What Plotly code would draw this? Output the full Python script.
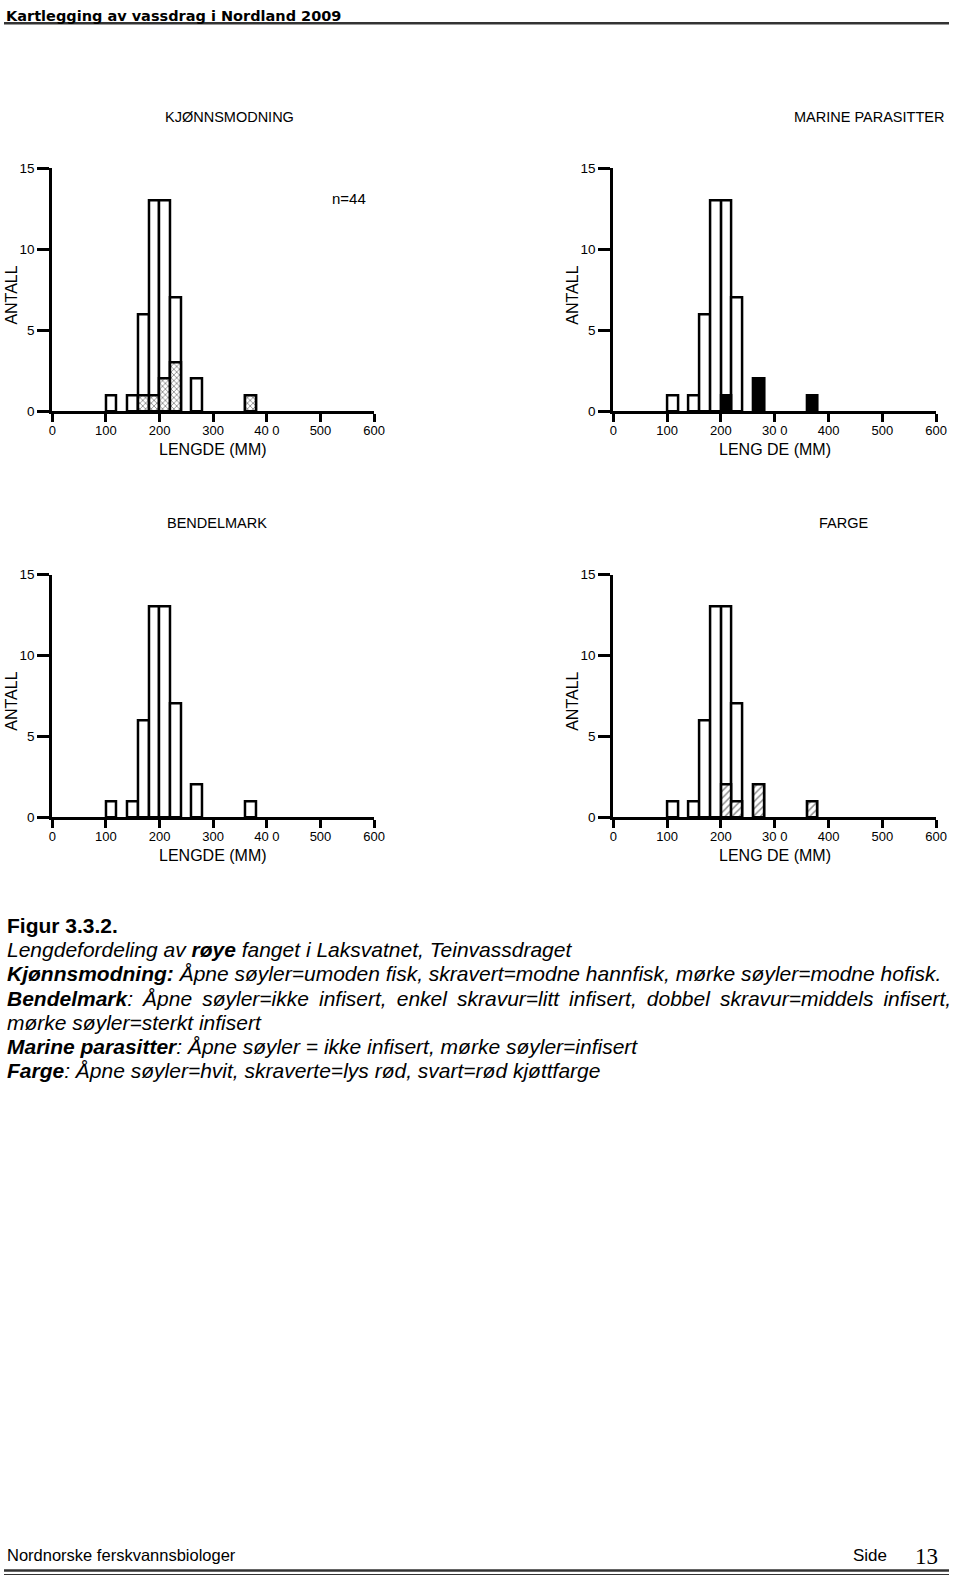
import plotly.graph_objects as go

# ---------------- data ----------------
length_mid = [110, 150, 170, 190, 210, 230, 270, 370]   # bin centres (mm), bins 20 mm wide
bin_width = 20
antall_total = [1, 1, 6, 13, 13, 7, 2, 1]               # all fish, n=44
kjonn_hann = [0, 0, 1, 1, 2, 3, 0, 1]                   # modne hannfisk (skravert)
marine_infisert = [0, 0, 0, 0, 1, 0, 2, 1]              # infisert (mørke)
bendel_infisert = [0, 0, 0, 0, 0, 0, 0, 0]              # none infected
farge_lysrod = [0, 0, 0, 0, 2, 1, 2, 1]                 # lys rød (skravert)

ticks_x = [0, 100, 200, 300, 400, 500, 600]
ticktext_a = ["0", "100", "200", "300", "40 0", "500", "600"]
ticktext_b = ["0", "100", "200", "30 0", "400", "500", "600"]
ticks_y = [0, 5, 10, 15]

W, H = 960, 1584
def px(x):
    return x / W
def py(y):
    return 1 - y / H

fig = go.Figure()

panels = [
    dict(ax="x", ay="y", sub=kjonn_hann, kind="cross", tt=ticktext_a,
         xd=[49, 376], yd=[408, 163], title="KJØNNSMODNING", tx=229, ty=111,
         txa="center", xt="LENGDE (MM)"),
    dict(ax="x2", ay="y2", sub=marine_infisert, kind="dark", tt=ticktext_b,
         xd=[619, 947], yd=[408, 163], title="MARINE PARASITTER", tx=957, ty=111,
         txa="right", xt="LENG DE (MM)"),
    dict(ax="x3", ay="y3", sub=bendel_infisert, kind="none", tt=ticktext_a,
         xd=[49, 376], yd=[818, 573], title="BENDELMARK", tx=216, ty=521,
         txa="center", xt="LENGDE (MM)"),
    dict(ax="x4", ay="y4", sub=farge_lysrod, kind="diag", tt=ticktext_b,
         xd=[619, 947], yd=[818, 573], title="FARGE", tx=853, ty=521,
         txa="center", xt="LENG DE (MM)"),
]

for i, p in enumerate(panels):
    fig.add_trace(go.Bar(
        x=length_mid, y=antall_total, width=bin_width,
        xaxis=p["ax"], yaxis=p["ay"],
        marker=dict(color="white", line=dict(color="black", width=2.5)),
        opacity=1, showlegend=False, hoverinfo="skip"))
    xs = [m for m, v in zip(length_mid, p["sub"]) if v > 0]
    ys = [v for v in p["sub"] if v > 0]
    if xs:
        if p["kind"] == "dark":
            mk = dict(color="black", line=dict(color="black", width=2.5))
        elif p["kind"] == "cross":
            mk = dict(color="white", line=dict(color="black", width=2.5),
                      pattern=dict(shape="x", size=4, solidity=0.4,
                                   fgcolor="#222222", bgcolor="white"))
        else:
            mk = dict(color="white", line=dict(color="black", width=2.5),
                      pattern=dict(shape="/", size=5, solidity=0.3,
                                   fgcolor="#222222", bgcolor="white"))
        fig.add_trace(go.Bar(
            x=xs, y=ys, width=bin_width,
            xaxis=p["ax"], yaxis=p["ay"], marker=mk,
            opacity=1, showlegend=False, hoverinfo="skip"))

    n = "" if i == 0 else str(i + 1)
    fig.layout["xaxis" + n] = dict(
        domain=[px(p["xd"][0]), px(p["xd"][1])], range=[0, 600],
        anchor="y" + n, tickmode="array", tickvals=ticks_x, ticktext=p["tt"],
        ticks="outside", ticklen=8, tickwidth=2.5, tickcolor="black",
        showline=True, linewidth=3, linecolor="black",
        showgrid=False, zeroline=False, fixedrange=True,
        tickfont=dict(family="Liberation Sans, Arial", size=13, color="black"),
        ticklabelstandoff=-3)
    fig.layout["yaxis" + n] = dict(
        domain=[py(p["yd"][0]), py(p["yd"][1])], range=[0, 15],
        anchor="x" + n, tickmode="array", tickvals=ticks_y,
        ticks="outside", ticklen=12, tickwidth=2.5, tickcolor="black",
        showline=True, linewidth=3, linecolor="black",
        showgrid=False, zeroline=False, fixedrange=True,
        tickfont=dict(family="Liberation Sans, Arial", size=13.5, color="black"))

ann = []
def text(x, y, s, size, family="Liberation Sans, Arial", xanchor="left",
         yanchor="middle", angle=0, color="black"):
    ann.append(dict(x=px(x), y=py(y), xref="paper", yref="paper", text=s,
                    showarrow=False, xanchor=xanchor, yanchor=yanchor,
                    textangle=angle,
                    font=dict(family=family, size=size, color=color)))

narrow = "Liberation Sans Narrow, Arial Narrow, Liberation Sans, Arial"
for p in panels:
    text(p["tx"], p["ty"], p["title"], 14.5, family=narrow, xanchor=p["txa"])
    xc = (p["xd"][0] + p["xd"][1]) / 2
    text(xc, p["yd"][0] + 39, p["xt"], 16, xanchor="center")
    text(p["xd"][0] - 41, (p["yd"][0] + p["yd"][1]) / 2 + 5, "ANTALL", 16,
         xanchor="center", angle=-90)

text(350, 193, "n=44", 15, family=narrow, xanchor="center")

# header
text(0, 9, "<b>Kartlegging av vassdrag i Nordland 2009</b>", 14.5,
     family="DejaVu Sans, Comic Sans MS")

# caption
ts = "\u2009"
cap = [
    "<b>Figur 3.3.2.</b>",
    "<i>Lengdefordeling av <b>røye</b> fanget i Laksvatnet, Teinvassdraget</i>",
    "<b><i>Kjønnsmodning:</i></b><i> Åpne søyler=umoden fisk, skravert=modne hannfisk, mørke søyler=modne hofisk.</i>",
    "<b><i>Bendelmark</i></b><i>:" + ts + " Åpne " + ts + "søyler=ikke " + ts + "infisert, " + ts
    + "enkel " + ts + "skravur=litt " + ts + "infisert, " + ts + "dobbel " + ts
    + "skravur=middels " + ts + "infisert,</i>",
    "<i>mørke søyler=sterkt infisert</i>",
    "<b><i>Marine parasitter</i></b><i>: Åpne søyler = ikke infisert, mørke søyler=infisert</i>",
    "<b><i>Farge</i></b><i>: Åpne søyler=hvit, skraverte=lys rød, svart=rød kjøttfarge</i>",
]
for k, s in enumerate(cap):
    text(1, 927 + 24.5 * k, s, 21)

# footer
text(1, 1563, "Nordnorske ferskvannsbiologer", 16.5)
text(880, 1563, "Side", 17, xanchor="center")
text(937, 1564, "13", 23, family="Liberation Serif, Times New Roman", xanchor="center")

shapes = [
    dict(type="line", xref="paper", yref="paper", x0=0, x1=1, y0=py(16.5), y1=py(16.5),
         line=dict(color="#333333", width=2.5)),
    dict(type="line", xref="paper", yref="paper", x0=0, x1=1, y0=py(1578.5), y1=py(1578.5),
         line=dict(color="#333333", width=2.5)),
    dict(type="line", xref="paper", yref="paper", x0=0, x1=1, y0=py(1582.5), y1=py(1582.5),
         line=dict(color="#333333", width=1)),
]

fig.update_layout(
    width=W, height=H, margin=dict(l=0, r=0, t=0, b=0),
    paper_bgcolor="white", plot_bgcolor="white",
    barmode="overlay", bargap=0, showlegend=False,
    annotations=ann, shapes=shapes)

fig.write_html("out.html")
